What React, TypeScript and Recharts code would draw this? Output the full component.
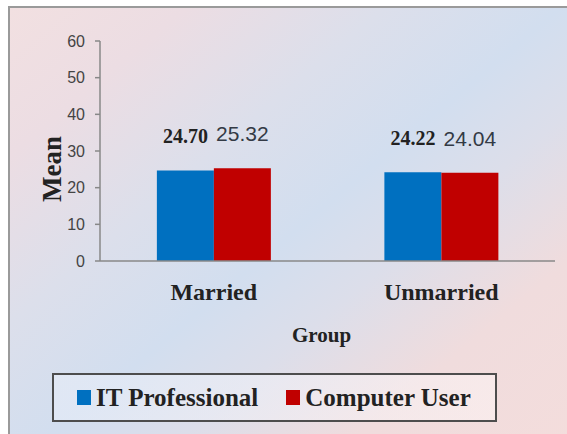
import { BarChart, Bar, XAxis, YAxis, Legend, LabelList, Label } from 'recharts';

const groups = ['Married', 'Unmarried'];
const itProfessional = [24.7, 24.22];
const computerUser = [25.32, 24.04];
const seriesNames = ['IT Professional', 'Computer User'];
const yTicks = [0, 10, 20, 30, 40, 50, 60];
const groupEdges = [0, 1, 2];

const SERIF = 'Liberation Serif, Times New Roman, serif';
const SANS = 'Liberation Sans, Arial, sans-serif';

const data = groups.map((g, i) => ({
  group: g,
  it: itProfessional[i],
  cu: computerUser[i],
}));

const fmt = (v: any) => Number(v).toFixed(2);

function renderLegend(props: any) {
  const { payload = [] } = props;
  return (
    <div
      style={{
        boxSizing: 'border-box',
        width: '100%',
        height: '100%',
        border: '2px solid #4d4d4d',
        display: 'flex',
        alignItems: 'center',
        paddingLeft: 23,
        whiteSpace: 'nowrap',
        fontFamily: SERIF,
        background: 'linear-gradient(90deg, rgba(235,240,250,0.5), rgba(255,250,250,0.45))',
      }}
    >
      {payload.map((entry: any, i: number) => (
        <div
          key={`leg-${i}`}
          style={{ display: 'flex', alignItems: 'center', flexShrink: 0, whiteSpace: 'nowrap', marginRight: 28 }}
        >
          <span
            style={{ display: 'inline-block', width: 14, height: 15, background: entry.color, marginRight: 5, flexShrink: 0 }}
          />
          <span style={{ fontFamily: SERIF, fontWeight: 700, fontSize: 25, color: '#222', whiteSpace: 'nowrap' }}>
            {entry.value}
          </span>
        </div>
      ))}
    </div>
  );
}

const makeValueLabel = (family: string, weight: string, size: number, color: string) => (p: any) => {
  const x = Number(p.x) + Number(p.width) / 2;
  const y = Number(p.y) - 27;
  return (
    <text x={x} y={y} textAnchor="middle" fontFamily={family} fontWeight={weight} fontSize={size} fill={color}>
      {fmt(p.value)}
    </text>
  );
};

export default function App() {
  return (
    <div style={{ position: 'absolute', left: 0, top: 0, width: 567, height: 434, background: '#fff', overflow: 'hidden' }}>
      <div
        style={{
          position: 'absolute',
          left: 8,
          top: 6,
          width: 570,
          height: 450,
          borderLeft: '2px solid #9a9a9a',
          borderTop: '2px solid #9a9a9a',
          boxSizing: 'border-box',
          background:
            'linear-gradient(140deg, #f2e0e1 0%, #ecdde3 16%, #dcdfeb 34%, #d2deef 50%, #dcdeea 62%, #f0dcdd 78%, #f4dddc 100%)',
        }}
      />
      <div style={{ position: 'absolute', left: 0, top: 0 }}>
        <BarChart
          width={567}
          height={434}
          data={data}
          margin={{ top: 41, right: 12, left: 20, bottom: 73 }}
          barCategoryGap="25%"
          barGap={0}
        >
          <XAxis
            xAxisId="edge"
            type="number"
            domain={[0, 2]}
            ticks={groupEdges}
            height={0}
            tick={false}
            tickSize={6}
            axisLine={false}
            tickLine={{ stroke: '#888', strokeWidth: 1.5 }}
          />
          <XAxis
            xAxisId="cat"
            dataKey="group"
            height={100}
            interval={0}
            tickLine={false}
            tickSize={0}
            tickMargin={22}
            axisLine={{ stroke: '#888', strokeWidth: 1.5 }}
            tick={{ fontFamily: SERIF, fontSize: 24, fontWeight: 'bold', fill: '#222' }}
          >
            <Label
              content={(p: any) => {
                const vb = p.viewBox;
                return (
                  <text
                    x={vb.x + vb.width / 2 - 6}
                    y={vb.y + 81}
                    textAnchor="middle"
                    fontFamily={SERIF}
                    fontWeight="bold"
                    fontSize={21}
                    fill="#222"
                  >
                    Group
                  </text>
                );
              }}
            />
          </XAxis>
          <YAxis
            domain={[0, 60]}
            ticks={yTicks}
            width={80}
            tickSize={5}
            tickMargin={10}
            axisLine={{ stroke: '#888', strokeWidth: 1.5 }}
            tickLine={{ stroke: '#888', strokeWidth: 1.5 }}
            tick={{ fontFamily: SANS, fontSize: 16, fill: '#444' }}
          >
            <Label
              content={(p: any) => {
                const vb = p.viewBox;
                const cx = vb.x + 32;
                const cy = vb.y + vb.height / 2 + 18;
                return (
                  <text
                    x={cx}
                    y={cy}
                    transform={`rotate(-90 ${cx} ${cy})`}
                    textAnchor="middle"
                    dominantBaseline="central"
                    fontFamily={SERIF}
                    fontWeight="bold"
                    fontSize={27}
                    fill="#222"
                  >
                    Mean
                  </text>
                );
              }}
            />
          </YAxis>
          <Legend
            layout="horizontal"
            verticalAlign="middle"
            align="center"
            itemSorter={(e: any) => seriesNames.indexOf(e.value)}
            wrapperStyle={{ left: 52, top: 373, width: 445, height: 49 }}
            content={renderLegend}
          />
          <Bar xAxisId="cat" dataKey="it" name={seriesNames[0]} fill="#0070c0" isAnimationActive={false}>
            <LabelList dataKey="it" content={makeValueLabel(SERIF, 'bold', 20, '#222')} />
          </Bar>
          <Bar xAxisId="cat" dataKey="cu" name={seriesNames[1]} fill="#c00000" isAnimationActive={false}>
            <LabelList dataKey="cu" content={makeValueLabel(SANS, 'normal', 21, '#333a45')} />
          </Bar>
        </BarChart>
      </div>
    </div>
  );
}
